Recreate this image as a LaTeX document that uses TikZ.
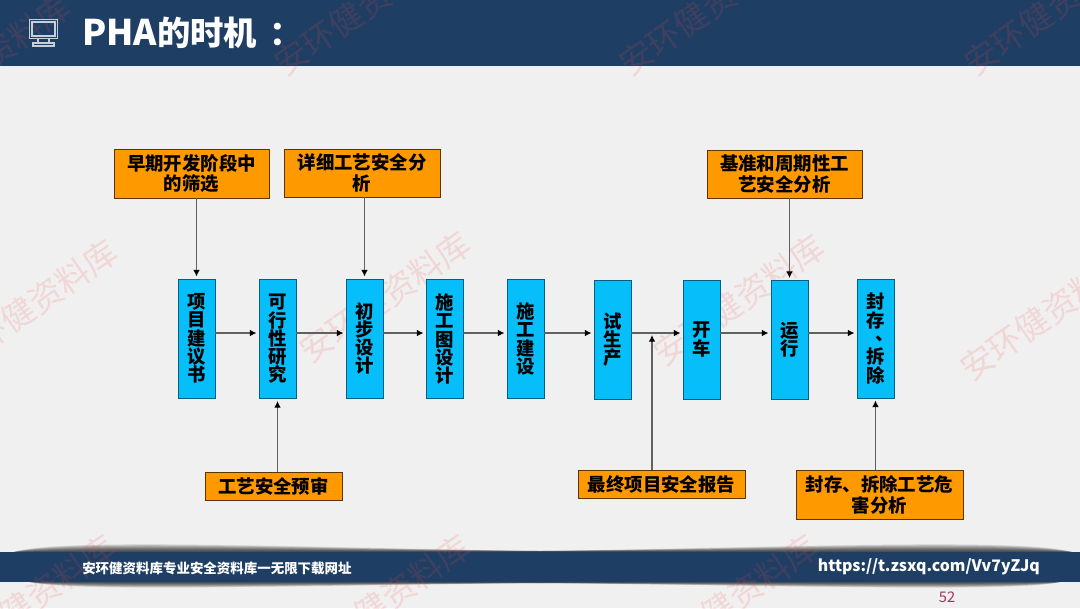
\documentclass[tikz,border=0pt]{standalone}
\usepackage{fontspec}
\setmainfont{Noto Sans CJK SC}
\usetikzlibrary{arrows.meta}
\definecolor{barblue}{HTML}{1F3E64}
\definecolor{paper}{HTML}{F0F0F0}
\definecolor{boxblue}{HTML}{05BEFA}
\definecolor{boxorange}{HTML}{FF9900}
\definecolor{pagered}{HTML}{A83060}
\lineskiplimit=-10pt
\tikzset{
	bluebox/.style={draw=black!50!boxblue, fill=boxblue, line width=0.7pt, minimum width=37*0.75pt, minimum height=119*0.75pt, inner sep=0pt, align=center, font=\fontsize{13.8}{13.7}\selectfont\bfseries},
	orangebox/.style={draw=black!65!boxorange, fill=boxorange, line width=0.7pt, inner sep=0pt, align=center, font=\fontsize{13.8}{15.7}\selectfont\bfseries},
	flow/.style={draw=black!62, line width=0.9pt, -{Latex[black, length=5pt, width=5pt]}, shorten >=1.5pt},
	stamp/.style={text=red!70!paper, opacity=0.15, rotate=35, font=\fontsize{25}{25}\selectfont},
	monitor/.style={draw=white!75!barblue, line width=0.8pt}
}
\begin{document}
\begin{tikzpicture}[x=0.75pt, y=-0.75pt]
	\useasboundingbox (0, 0) rectangle (1080, 608);
	\fill[paper] (0, 0) rectangle (1080, 608);
	% footer shadow
	\foreach \sh in {1, 2, ..., 15}{
		\fill[black, opacity=0.07] (14, 552) .. controls (60, 552-\sh) and (300, 552-\sh*0.3) .. (540, 551) .. controls (780, 552-\sh*0.3) and (1020, 552-\sh) .. (1072, 552) -- cycle;
		\fill[black, opacity=0.07] (30, 582) .. controls (70, 582+\sh*0.7) and (300, 582+\sh*0.25) .. (540, 583) .. controls (780, 582+\sh*0.25) and (1020, 582+\sh*0.7) .. (1060, 582) -- cycle;
	}
	% bars
	\fill[barblue] (0, 0) rectangle (1080, 66);
	\fill[barblue] (0, 552) rectangle (1080, 582);
	% watermark
	\foreach \wx/\wy in {-15/60, 360/10, 705/10, 1050/10, 32/305, 385/297, 739/300, 1046/315, 30/600, 385/600, 732/600, 1075/635}
		\node[stamp] at (\wx, \wy) {安环健资料库};
	% title
	\draw[monitor] (29.5, 19.5) rectangle (57.5, 38.5);
	\draw[monitor] (32, 22) rectangle (55, 36);
	\draw[monitor] (38, 38.5) -- (38, 43) (49, 38.5) -- (49, 43);
	\draw[monitor] (33, 43) rectangle (54, 46);
	\node[anchor=west, inner sep=0pt, text=white, font=\fontsize{25}{25}\selectfont\bfseries] (title) at (82, 33) {{\fontsize{26.5}{26.5}\selectfont PHA}的时机\kern 9pt：};
	% footer
	\node[anchor=west, inner sep=0pt, text=white, font=\fontsize{10.1}{10.1}\selectfont\bfseries] (site) at (82, 568) {安环健资料库专业安全资料库一无限下载网址};
	\node[anchor=east, inner sep=0pt, text=white, font=\fontsize{11.9}{11.9}\selectfont\bfseries] (link) at (1040, 567) {https://t.zsxq.com/Vv7yZJq};
	\node[inner sep=0pt, text=pagered, font=\fontsize{11}{11}\selectfont] (page) at (947, 597) {52};
	% stages
	\coordinate (flowline) at (0, 333);
	\coordinate (startup) at (652, 333);
	\node[bluebox] (proposal) at (196.5, 338.5) {项\\目\\建\\议\\书};
	\node[bluebox] (study) at (277.5, 339) {可\\行\\性\\研\\究};
	\node[bluebox] (prelim) at (364.5, 338.5) {初\\步\\设\\计};
	\node[bluebox] (drawing) at (444.5, 339) {施\\工\\图\\设\\计};
	\node[bluebox] (build) at (525.5, 339) {施\\工\\建\\设};
	\node[bluebox] (trial) at (612.5, 339.5) {试\\生\\产};
	\node[bluebox] (start) at (701.5, 339.5) {开\\车};
	\node[bluebox] (operate) at (789.5, 340) {运\\行};
	\node[bluebox] (retire) at (875.5, 338.5) {封\\存\\\raisebox{3.5pt}{\makebox[13.8pt][l]{\kern 7pt 、}}\\拆\\除};
	% reviews
	\node[orangebox, minimum width=155*0.75pt, minimum height=49*0.75pt] (screening) at (191.5, 173.5) {早期开发阶段中\\的筛选};
	\node[orangebox, minimum width=156*0.75pt, minimum height=48*0.75pt] (detailed) at (362, 173) {详细工艺安全分\\析};
	\node[orangebox, minimum width=155*0.75pt, minimum height=48*0.75pt] (periodic) at (784.5, 174) {基准和周期性工\\艺安全分析};
	\node[orangebox, minimum width=137*0.75pt, minimum height=28*0.75pt] (prereview) at (273.5, 486) {工艺安全预审};
	\node[orangebox, minimum width=167*0.75pt, minimum height=28*0.75pt] (final) at (661.5, 484) {最终项目安全报告};
	\node[orangebox, minimum width=167*0.75pt, minimum height=49*0.75pt] (closure) at (879.5, 494.5) {封存、拆除工艺危\\害分析};
	% connectors
	\foreach \a/\b in {proposal/study, study/prelim, prelim/drawing, drawing/build, build/trial, trial/start, start/operate, operate/retire}
		\draw[flow] (\a.east |- flowline) -- (\b.west |- flowline);
	\draw[flow] (screening.south -| proposal) -- (proposal);
	\draw[flow] (detailed.south -| prelim) -- (prelim);
	\draw[flow] (periodic.south -| operate) -- (operate);
	\draw[flow] (prereview.north -| study) -- (study);
	\draw[flow] (final.north -| startup) -- (startup);
	\draw[flow] (closure.north -| retire) -- (retire);
\end{tikzpicture}
\end{document}
